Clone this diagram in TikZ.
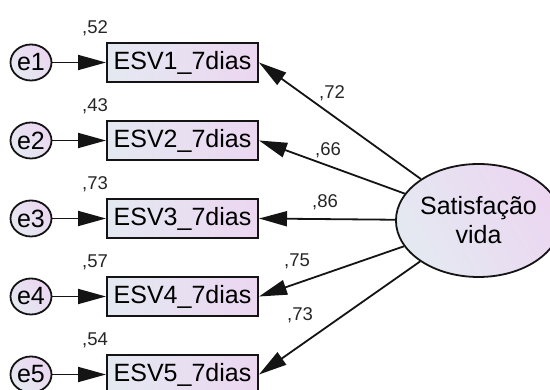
\documentclass[tikz,border=0pt]{standalone}
\usepackage{fontspec}
\setmainfont{Liberation Sans}
\usetikzlibrary{shapes.geometric,arrows.meta}
\definecolor{fillA}{RGB}{228,233,241}
\definecolor{fillB}{RGB}{236,214,241}
\definecolor{edge}{RGB}{20,20,20}
\tikzset{
  obs/.style={draw=edge, line width=2pt, rectangle, minimum width=151pt, minimum height=39pt,
    inner sep=0pt, left color=fillA, right color=fillB, font=\fontsize{25}{28}\selectfont},
  errv/.style={draw=edge, line width=1.8pt, ellipse, minimum width=41pt, minimum height=36pt,
    inner sep=0pt, left color=fillA, right color=fillB, shading angle=135, font=\fontsize{25}{28}\selectfont},
  latv/.style={draw=edge, line width=1.8pt, ellipse, minimum width=141pt, minimum height=113pt,
    inner sep=0pt, align=center, left color=fillA, right color=fillB, shading angle=120,
    font=\fontsize{25}{29}\selectfont},
  num/.style={inner sep=0pt, text=black!85, font=\fontsize{18.5}{21}\selectfont},
  arr/.style={line width=1.8pt, draw=edge, -{Triangle[length=28pt,width=15pt]}},
}
\begin{document}
\begin{tikzpicture}[x=1pt,y=-1pt]
\useasboundingbox (0,0) rectangle (550,390);
\fill[white] (0,0) rectangle (550,390);
\foreach \i/\y/\v in {1/62.5/52, 2/140.5/43, 3/218.5/73, 4/296.5/57, 5/374.5/54} {
  \node[obs] (v\i) at (182.5,\y) {ESV\i\_7dias};
  \node[errv] (e\i) at (31,\y) {e\i};
  \draw[arr] (e\i) -- (v\i);
  \node[num] (r\i) at (95,\y-34) {,\v};
}
\node[latv] (sat) at (478.5,220.5) {Satisfação\\vida};
\draw[arr] (sat) -- (v1.east);
\draw[arr] (sat) -- (v2.east);
\draw[arr] (sat) -- (v3.east);
\draw[arr] (sat) -- (v4.east);
\draw[arr] (sat) -- (v5.east);
\node[num] (w1) at (332,93) {,72};
\node[num] (w2) at (328,150) {,66};
\node[num] (w3) at (325,202) {,86};
\node[num] (w4) at (297,261) {,75};
\node[num] (w5) at (300,315) {,73};
\end{tikzpicture}
\end{document}
